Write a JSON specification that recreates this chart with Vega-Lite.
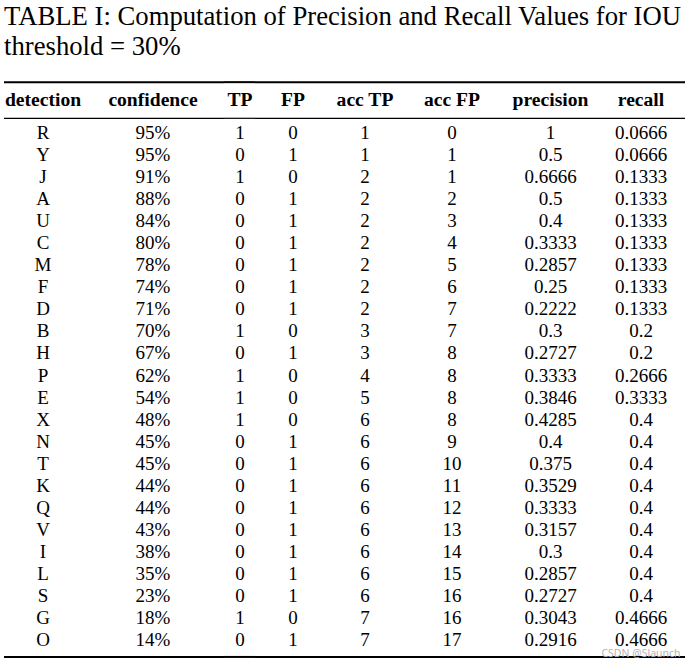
{
  "$schema": "https://vega.github.io/schema/vega-lite/v6.json",
  "padding": {"left": 3, "top": 4, "right": 0, "bottom": 0},
  "background": "white",
  "bounds": "flush",
  "title": {
    "text": ["TABLE I: Computation of Precision and Recall Values for IOU", "threshold = 30%"],
    "anchor": "start",
    "dx": 1,
    "font": "Liberation Serif",
    "fontSize": 26.7,
    "fontWeight": "normal",
    "lineHeight": 30,
    "offset": 20,
    "color": "#000"
  },
  "datasets": {
    "rows": [
      {"detection": "R", "confidence": 0.95, "TP": 1, "FP": 0, "accTP": 1, "accFP": 0, "precision": 1, "recall": 0.0666},
      {"detection": "Y", "confidence": 0.95, "TP": 0, "FP": 1, "accTP": 1, "accFP": 1, "precision": 0.5, "recall": 0.0666},
      {"detection": "J", "confidence": 0.91, "TP": 1, "FP": 0, "accTP": 2, "accFP": 1, "precision": 0.6666, "recall": 0.1333},
      {"detection": "A", "confidence": 0.88, "TP": 0, "FP": 1, "accTP": 2, "accFP": 2, "precision": 0.5, "recall": 0.1333},
      {"detection": "U", "confidence": 0.84, "TP": 0, "FP": 1, "accTP": 2, "accFP": 3, "precision": 0.4, "recall": 0.1333},
      {"detection": "C", "confidence": 0.80, "TP": 0, "FP": 1, "accTP": 2, "accFP": 4, "precision": 0.3333, "recall": 0.1333},
      {"detection": "M", "confidence": 0.78, "TP": 0, "FP": 1, "accTP": 2, "accFP": 5, "precision": 0.2857, "recall": 0.1333},
      {"detection": "F", "confidence": 0.74, "TP": 0, "FP": 1, "accTP": 2, "accFP": 6, "precision": 0.25, "recall": 0.1333},
      {"detection": "D", "confidence": 0.71, "TP": 0, "FP": 1, "accTP": 2, "accFP": 7, "precision": 0.2222, "recall": 0.1333},
      {"detection": "B", "confidence": 0.70, "TP": 1, "FP": 0, "accTP": 3, "accFP": 7, "precision": 0.3, "recall": 0.2},
      {"detection": "H", "confidence": 0.67, "TP": 0, "FP": 1, "accTP": 3, "accFP": 8, "precision": 0.2727, "recall": 0.2},
      {"detection": "P", "confidence": 0.62, "TP": 1, "FP": 0, "accTP": 4, "accFP": 8, "precision": 0.3333, "recall": 0.2666},
      {"detection": "E", "confidence": 0.54, "TP": 1, "FP": 0, "accTP": 5, "accFP": 8, "precision": 0.3846, "recall": 0.3333},
      {"detection": "X", "confidence": 0.48, "TP": 1, "FP": 0, "accTP": 6, "accFP": 8, "precision": 0.4285, "recall": 0.4},
      {"detection": "N", "confidence": 0.45, "TP": 0, "FP": 1, "accTP": 6, "accFP": 9, "precision": 0.4, "recall": 0.4},
      {"detection": "T", "confidence": 0.45, "TP": 0, "FP": 1, "accTP": 6, "accFP": 10, "precision": 0.375, "recall": 0.4},
      {"detection": "K", "confidence": 0.44, "TP": 0, "FP": 1, "accTP": 6, "accFP": 11, "precision": 0.3529, "recall": 0.4},
      {"detection": "Q", "confidence": 0.44, "TP": 0, "FP": 1, "accTP": 6, "accFP": 12, "precision": 0.3333, "recall": 0.4},
      {"detection": "V", "confidence": 0.43, "TP": 0, "FP": 1, "accTP": 6, "accFP": 13, "precision": 0.3157, "recall": 0.4},
      {"detection": "I", "confidence": 0.38, "TP": 0, "FP": 1, "accTP": 6, "accFP": 14, "precision": 0.3, "recall": 0.4},
      {"detection": "L", "confidence": 0.35, "TP": 0, "FP": 1, "accTP": 6, "accFP": 15, "precision": 0.2857, "recall": 0.4},
      {"detection": "S", "confidence": 0.23, "TP": 0, "FP": 1, "accTP": 6, "accFP": 16, "precision": 0.2727, "recall": 0.4},
      {"detection": "G", "confidence": 0.18, "TP": 1, "FP": 0, "accTP": 7, "accFP": 16, "precision": 0.3043, "recall": 0.4666},
      {"detection": "O", "confidence": 0.14, "TP": 0, "FP": 1, "accTP": 7, "accFP": 17, "precision": 0.2916, "recall": 0.4666}
    ]
  },
  "spacing": 0,
  "hconcat": [
    {"width": 78, "height": 551, "layer": [
      {"data": {"values": [{"row": "header", "label": "detection"}]}, "mark": {"type": "text", "fontWeight": "bold", "fontSize": 19.6}, "encoding": {"y": {"field": "row", "type": "nominal", "bandPosition": 0, "axis": null, "scale": {"type": "band", "domain": ["header","R","Y","J","A","U","C","M","F","D","B","H","P","E","X","N","T","K","Q","V","I","L","S","G","O"], "paddingInner": 0, "paddingOuter": 0}}, "text": {"field": "label"}}},
      {"data": {"name": "rows"}, "mark": {"type": "text"}, "encoding": {"y": {"field": "detection", "type": "nominal", "axis": null}, "text": {"field": "detection", "type": "nominal"}}},
      {"data": {"values": [{"row": "header"}]}, "mark": {"type": "rule", "strokeWidth": 2}, "encoding": {"y": {"field": "row", "type": "nominal", "bandPosition": -0.81, "axis": null}}},
      {"data": {"values": [{"row": "header"}]}, "mark": {"type": "rule", "strokeWidth": 1.2}, "encoding": {"y": {"field": "row", "type": "nominal", "bandPosition": 0.83, "axis": null}}},
      {"data": {"values": [{"row": "O"}]}, "mark": {"type": "rule", "strokeWidth": 2}, "encoding": {"y": {"field": "row", "type": "nominal", "bandPosition": 1.27, "axis": null}}}
    ]},
    {"width": 142, "height": 551, "layer": [
      {"data": {"values": [{"row": "header", "label": "confidence"}]}, "mark": {"type": "text", "fontWeight": "bold", "fontSize": 19.6}, "encoding": {"y": {"field": "row", "type": "nominal", "bandPosition": 0, "axis": null, "scale": {"type": "band", "domain": ["header","R","Y","J","A","U","C","M","F","D","B","H","P","E","X","N","T","K","Q","V","I","L","S","G","O"], "paddingInner": 0, "paddingOuter": 0}}, "text": {"field": "label"}}},
      {"data": {"name": "rows"}, "mark": {"type": "text"}, "encoding": {"y": {"field": "detection", "type": "nominal", "axis": null}, "text": {"field": "confidence", "type": "quantitative", "format": ".0%"}}},
      {"data": {"values": [{"row": "header"}]}, "mark": {"type": "rule", "strokeWidth": 2}, "encoding": {"y": {"field": "row", "type": "nominal", "bandPosition": -0.81, "axis": null}}},
      {"data": {"values": [{"row": "header"}]}, "mark": {"type": "rule", "strokeWidth": 1.2}, "encoding": {"y": {"field": "row", "type": "nominal", "bandPosition": 0.83, "axis": null}}},
      {"data": {"values": [{"row": "O"}]}, "mark": {"type": "rule", "strokeWidth": 2}, "encoding": {"y": {"field": "row", "type": "nominal", "bandPosition": 1.27, "axis": null}}}
    ]},
    {"width": 32, "height": 551, "layer": [
      {"data": {"values": [{"row": "header", "label": "TP"}]}, "mark": {"type": "text", "fontWeight": "bold", "fontSize": 19.6}, "encoding": {"y": {"field": "row", "type": "nominal", "bandPosition": 0, "axis": null, "scale": {"type": "band", "domain": ["header","R","Y","J","A","U","C","M","F","D","B","H","P","E","X","N","T","K","Q","V","I","L","S","G","O"], "paddingInner": 0, "paddingOuter": 0}}, "text": {"field": "label"}}},
      {"data": {"name": "rows"}, "mark": {"type": "text"}, "encoding": {"y": {"field": "detection", "type": "nominal", "axis": null}, "text": {"field": "TP", "type": "nominal"}}},
      {"data": {"values": [{"row": "header"}]}, "mark": {"type": "rule", "strokeWidth": 2}, "encoding": {"y": {"field": "row", "type": "nominal", "bandPosition": -0.81, "axis": null}}},
      {"data": {"values": [{"row": "header"}]}, "mark": {"type": "rule", "strokeWidth": 1.2}, "encoding": {"y": {"field": "row", "type": "nominal", "bandPosition": 0.83, "axis": null}}},
      {"data": {"values": [{"row": "O"}]}, "mark": {"type": "rule", "strokeWidth": 2}, "encoding": {"y": {"field": "row", "type": "nominal", "bandPosition": 1.27, "axis": null}}}
    ]},
    {"width": 74, "height": 551, "layer": [
      {"data": {"values": [{"row": "header", "label": "FP"}]}, "mark": {"type": "text", "fontWeight": "bold", "fontSize": 19.6}, "encoding": {"y": {"field": "row", "type": "nominal", "bandPosition": 0, "axis": null, "scale": {"type": "band", "domain": ["header","R","Y","J","A","U","C","M","F","D","B","H","P","E","X","N","T","K","Q","V","I","L","S","G","O"], "paddingInner": 0, "paddingOuter": 0}}, "text": {"field": "label"}}},
      {"data": {"name": "rows"}, "mark": {"type": "text"}, "encoding": {"y": {"field": "detection", "type": "nominal", "axis": null}, "text": {"field": "FP", "type": "nominal"}}},
      {"data": {"values": [{"row": "header"}]}, "mark": {"type": "rule", "strokeWidth": 2}, "encoding": {"y": {"field": "row", "type": "nominal", "bandPosition": -0.81, "axis": null}}},
      {"data": {"values": [{"row": "header"}]}, "mark": {"type": "rule", "strokeWidth": 1.2}, "encoding": {"y": {"field": "row", "type": "nominal", "bandPosition": 0.83, "axis": null}}},
      {"data": {"values": [{"row": "O"}]}, "mark": {"type": "rule", "strokeWidth": 2}, "encoding": {"y": {"field": "row", "type": "nominal", "bandPosition": 1.27, "axis": null}}}
    ]},
    {"width": 70, "height": 551, "layer": [
      {"data": {"values": [{"row": "header", "label": "acc TP"}]}, "mark": {"type": "text", "fontWeight": "bold", "fontSize": 19.6}, "encoding": {"y": {"field": "row", "type": "nominal", "bandPosition": 0, "axis": null, "scale": {"type": "band", "domain": ["header","R","Y","J","A","U","C","M","F","D","B","H","P","E","X","N","T","K","Q","V","I","L","S","G","O"], "paddingInner": 0, "paddingOuter": 0}}, "text": {"field": "label"}}},
      {"data": {"name": "rows"}, "mark": {"type": "text"}, "encoding": {"y": {"field": "detection", "type": "nominal", "axis": null}, "text": {"field": "accTP", "type": "nominal"}}},
      {"data": {"values": [{"row": "header"}]}, "mark": {"type": "rule", "strokeWidth": 2}, "encoding": {"y": {"field": "row", "type": "nominal", "bandPosition": -0.81, "axis": null}}},
      {"data": {"values": [{"row": "header"}]}, "mark": {"type": "rule", "strokeWidth": 1.2}, "encoding": {"y": {"field": "row", "type": "nominal", "bandPosition": 0.83, "axis": null}}},
      {"data": {"values": [{"row": "O"}]}, "mark": {"type": "rule", "strokeWidth": 2}, "encoding": {"y": {"field": "row", "type": "nominal", "bandPosition": 1.27, "axis": null}}}
    ]},
    {"width": 104, "height": 551, "layer": [
      {"data": {"values": [{"row": "header", "label": "acc FP"}]}, "mark": {"type": "text", "fontWeight": "bold", "fontSize": 19.6}, "encoding": {"y": {"field": "row", "type": "nominal", "bandPosition": 0, "axis": null, "scale": {"type": "band", "domain": ["header","R","Y","J","A","U","C","M","F","D","B","H","P","E","X","N","T","K","Q","V","I","L","S","G","O"], "paddingInner": 0, "paddingOuter": 0}}, "text": {"field": "label"}}},
      {"data": {"name": "rows"}, "mark": {"type": "text"}, "encoding": {"y": {"field": "detection", "type": "nominal", "axis": null}, "text": {"field": "accFP", "type": "nominal"}}},
      {"data": {"values": [{"row": "header"}]}, "mark": {"type": "rule", "strokeWidth": 2}, "encoding": {"y": {"field": "row", "type": "nominal", "bandPosition": -0.81, "axis": null}}},
      {"data": {"values": [{"row": "header"}]}, "mark": {"type": "rule", "strokeWidth": 1.2}, "encoding": {"y": {"field": "row", "type": "nominal", "bandPosition": 0.83, "axis": null}}},
      {"data": {"values": [{"row": "O"}]}, "mark": {"type": "rule", "strokeWidth": 2}, "encoding": {"y": {"field": "row", "type": "nominal", "bandPosition": 1.27, "axis": null}}}
    ]},
    {"width": 93, "height": 551, "layer": [
      {"data": {"values": [{"row": "header", "label": "precision"}]}, "mark": {"type": "text", "fontWeight": "bold", "fontSize": 19.6}, "encoding": {"y": {"field": "row", "type": "nominal", "bandPosition": 0, "axis": null, "scale": {"type": "band", "domain": ["header","R","Y","J","A","U","C","M","F","D","B","H","P","E","X","N","T","K","Q","V","I","L","S","G","O"], "paddingInner": 0, "paddingOuter": 0}}, "text": {"field": "label"}}},
      {"data": {"name": "rows"}, "mark": {"type": "text"}, "encoding": {"y": {"field": "detection", "type": "nominal", "axis": null}, "text": {"field": "precision", "type": "nominal"}}},
      {"data": {"values": [{"row": "header"}]}, "mark": {"type": "rule", "strokeWidth": 2}, "encoding": {"y": {"field": "row", "type": "nominal", "bandPosition": -0.81, "axis": null}}},
      {"data": {"values": [{"row": "header"}]}, "mark": {"type": "rule", "strokeWidth": 1.2}, "encoding": {"y": {"field": "row", "type": "nominal", "bandPosition": 0.83, "axis": null}}},
      {"data": {"values": [{"row": "O"}]}, "mark": {"type": "rule", "strokeWidth": 2}, "encoding": {"y": {"field": "row", "type": "nominal", "bandPosition": 1.27, "axis": null}}}
    ]},
    {"width": 88, "height": 551, "layer": [
      {"data": {"values": [{"row": "header", "label": "recall"}]}, "mark": {"type": "text", "fontWeight": "bold", "fontSize": 19.6}, "encoding": {"y": {"field": "row", "type": "nominal", "bandPosition": 0, "axis": null, "scale": {"type": "band", "domain": ["header","R","Y","J","A","U","C","M","F","D","B","H","P","E","X","N","T","K","Q","V","I","L","S","G","O"], "paddingInner": 0, "paddingOuter": 0}}, "text": {"field": "label"}}},
      {"data": {"name": "rows"}, "mark": {"type": "text"}, "encoding": {"y": {"field": "detection", "type": "nominal", "axis": null}, "text": {"field": "recall", "type": "nominal"}}},
      {"data": {"values": [{"row": "header"}]}, "mark": {"type": "rule", "strokeWidth": 2}, "encoding": {"y": {"field": "row", "type": "nominal", "bandPosition": -0.81, "axis": null}}},
      {"data": {"values": [{"row": "header"}]}, "mark": {"type": "rule", "strokeWidth": 1.2}, "encoding": {"y": {"field": "row", "type": "nominal", "bandPosition": 0.83, "axis": null}}},
      {"data": {"values": [{"row": "O"}]}, "mark": {"type": "rule", "strokeWidth": 2}, "encoding": {"y": {"field": "row", "type": "nominal", "bandPosition": 1.27, "axis": null}}},
      {"data": {"values": [{"row": "O", "mark": "CSDN @Slaunch"}]}, "mark": {"type": "text", "font": "Noto Sans", "fontSize": 10.5, "color": "#b4b4b4"}, "encoding": {"y": {"field": "row", "type": "nominal", "bandPosition": 1.12, "axis": null}, "text": {"field": "mark"}}}
    ]}
  ],
  "config": {
    "view": {"stroke": null},
    "concat": {"spacing": 0},
    "text": {"font": "Liberation Serif", "fontSize": 19, "color": "#000", "baseline": "middle"},
    "rule": {"color": "#000"}
  }
}
